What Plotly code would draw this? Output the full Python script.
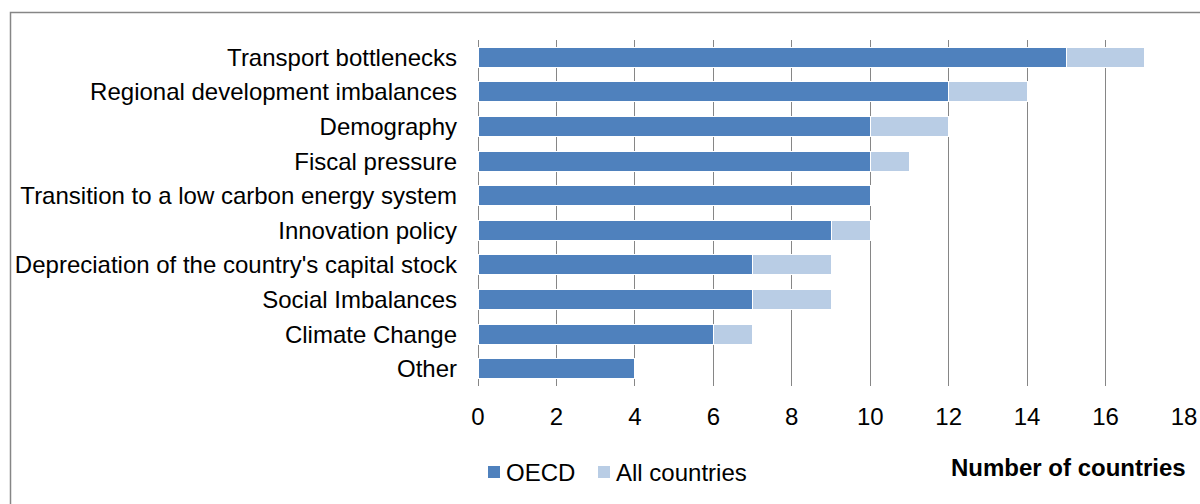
import plotly.graph_objects as go

categories = ["Transport bottlenecks", "Regional development imbalances", "Demography",
              "Fiscal pressure", "Transition to a low carbon energy system", "Innovation policy",
              "Depreciation of the country's capital stock", "Social Imbalances",
              "Climate Change", "Other"]
oecd = [15, 12, 10, 10, 10, 9, 7, 7, 6, 4]
all_countries_extra = [2, 2, 2, 1, 0, 1, 2, 2, 1, 0]
x_ticks = [0, 2, 4, 6, 8, 10, 12, 14, 16, 18]
series_names = ["OECD", "All countries"]
series_colors = ["#4F81BD", "#B9CDE5"]

W, H = 1200, 504
L, R, T, B = 478, 16, 40, 118
pw, ph = W - L - R, H - T - B

def px(x):
    return (x - L) / pw

def py(y):
    return (H - B - y) / ph

font = "Liberation Sans, Arial, sans-serif"
FS = 24

fig = go.Figure()
fig.add_trace(go.Bar(y=categories, x=oecd, orientation="h", name=series_names[0],
                     marker=dict(color=series_colors[0], line=dict(color="#FFFFFF", width=1))))
fig.add_trace(go.Bar(y=categories, x=all_countries_extra, orientation="h", name=series_names[1],
                     marker=dict(color=series_colors[1], line=dict(color="#FFFFFF", width=1))))

# outer chart frame (only top and left edges fall inside the picture)
shapes = [dict(type="rect", xref="paper", yref="paper", x0=px(10.5), x1=px(1215), y0=py(12.5), y1=py(520),
               line=dict(color="#868686", width=1.5), fillcolor="rgba(0,0,0,0)", layer="below")]
annotations = [dict(text="<b>Number of countries</b>", xref="paper", yref="paper", x=px(1188), y=py(467),
                    xanchor="right", yanchor="middle", showarrow=False, font=dict(size=FS))]

# compact legend, like the original
legend_x = [488, 598]
for lx, name, col in zip(legend_x, series_names, series_colors):
    shapes.append(dict(type="rect", xref="paper", yref="paper", x0=px(lx), x1=px(lx + 12),
                       y0=py(478), y1=py(466), fillcolor=col, line=dict(width=0)))
    annotations.append(dict(text=name, xref="paper", yref="paper", x=px(lx + 16), y=py(472),
                            xanchor="left", yanchor="middle", showarrow=False, font=dict(size=FS)))

fig.update_layout(
    width=W, height=H, barmode="stack", bargap=0.42,
    margin=dict(l=L, r=R, t=T, b=B, autoexpand=False),
    paper_bgcolor="white", plot_bgcolor="white",
    font=dict(family=font, size=FS, color="#000000"),
    showlegend=False,
    xaxis=dict(range=[0, 18], tickvals=x_ticks, showgrid=True, gridcolor="#868686", gridwidth=1,
               zeroline=True, zerolinecolor="#868686", zerolinewidth=1, showline=False,
               ticks="", tickfont=dict(size=FS), ticklabelstandoff=14, fixedrange=True,
               automargin=False),
    yaxis=dict(autorange="reversed", showgrid=False, zeroline=False, showline=False, ticks="",
               tickfont=dict(size=FS), ticklabelstandoff=20, fixedrange=True, automargin=False),
    shapes=shapes,
    annotations=annotations,
)

fig.write_html("out.html")
